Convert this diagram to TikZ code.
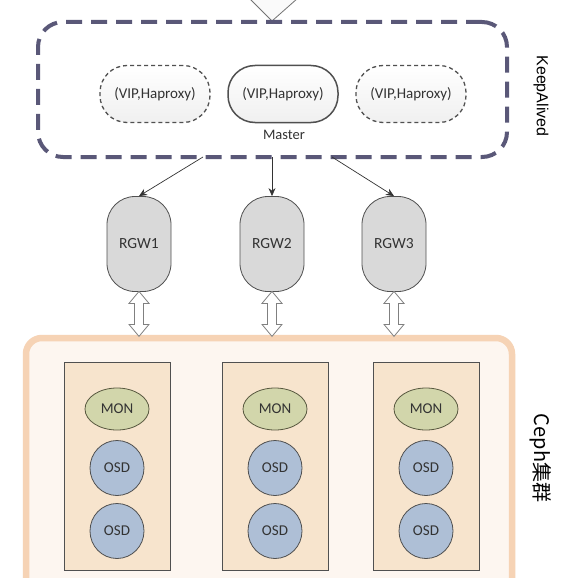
\documentclass[tikz,border=0pt]{standalone}
\usepackage{fontspec}
\setmainfont{Carlito}
\newfontfamily\kafont{Liberation Sans}
\newfontfamily\cjk{Noto Sans CJK SC}
\usetikzlibrary{arrows.meta,calc,shapes.geometric}
\definecolor{kadash}{HTML}{5A5878}
\definecolor{edgegray}{HTML}{505050}
\definecolor{rgwfill}{HTML}{D9D9D9}
\definecolor{cephborder}{HTML}{F6D3B5}
\definecolor{cephfill}{HTML}{FDF6F0}
\definecolor{colfill}{HTML}{F7E4CD}
\definecolor{monfill}{HTML}{D2D6AB}
\definecolor{osdfill}{HTML}{AEBFD6}
\definecolor{txt}{HTML}{333333}
\tikzset{
  kabox/.style={draw=kadash, line width=4pt, dash pattern=on 16pt off 9pt, rounded corners=25pt,
    minimum width=469pt, minimum height=135pt, inner sep=0pt},
  pill/.style={draw=edgegray, rounded corners=27pt, minimum width=110pt, minimum height=57pt,
    top color=white, bottom color=gray!12, text=txt, inner sep=0pt},
  pilldash/.style={pill, line width=1.3pt, dash pattern=on 4pt off 3pt},
  pillsolid/.style={pill, line width=1.5pt},
  rgw/.style={draw=edgegray, line width=0.8pt, rounded corners=28pt, fill=rgwfill,
    minimum width=64pt, minimum height=95pt, text=txt, inner sep=0pt,
    font=\fontsize{15.5}{17}\selectfont},
  conn/.style={draw=txt, line width=0.7pt, -{Stealth[length=8pt,width=7pt]}},
  harrow/.style={draw=gray, line width=0.8pt, fill=white},
  cephbox/.style={draw=cephborder, line width=6.5pt, fill=cephfill, rounded corners=16pt},
  colbox/.style={draw=edgegray, line width=0.8pt, fill=colfill, minimum width=106pt,
    minimum height=208pt, inner sep=0pt},
  mon/.style={ellipse, draw=edgegray!80!olive, line width=0.8pt, fill=monfill,
    minimum width=64pt, minimum height=42pt, inner sep=0pt, text=txt},
  osd/.style={ellipse, draw=edgegray, line width=0.8pt, fill=osdfill,
    minimum width=54pt, minimum height=55pt, inner sep=0pt, text=txt},
  sidelabel/.style={rotate=-90, text=black}
}
\begin{document}
\begin{tikzpicture}[x=1pt,y=-1pt, font=\fontsize{15}{17}\selectfont]
\useasboundingbox (0,0) rectangle (578,578);
\clip (0,0) rectangle (578,578);
\fill[white] (0,0) rectangle (578,578);

% top arrow head (part of an incoming block arrow)
\draw[draw=gray!90!black, line width=0.8pt, fill=gray!4] (249,-2) -- (272,21) -- (298,-2);

% KeepAlived group
\node[kabox] (ka) at (272.5,89.5) {};
\node[pilldash] (p1) at (155,94) {(VIP,Haproxy)};
\node[pillsolid] (p2) at (283,94) {(VIP,Haproxy)};
\node[pilldash] (p3) at (411,94) {(VIP,Haproxy)};
\node[text=txt, font=\fontsize{14.5}{16}\selectfont] (ms) at (284,135) {Master};
\node[sidelabel, font=\kafont\fontsize{16}{18}\selectfont] (kl) at (541,96) {KeepAlived};

% RGW nodes
\node[rgw] (r1) at (139,244) {RGW1};
\node[rgw] (r2) at (272,244) {RGW2};
\node[rgw] (r3) at (394,244) {RGW3};

\coordinate (s1) at (203,157);
\coordinate (s2) at (272,157);
\coordinate (s3) at (332,157);
\draw[conn] (s1) -- (r1.north);
\draw[conn] (s2) -- (r2.north);
\draw[conn] (s3) -- (r3.north);

% Ceph cluster
\draw[cephbox] (26,338) rectangle (512,640);
\node[sidelabel, font=\cjk\fontsize{20}{22}\selectfont] (cl) at (541,458) {Ceph集群};

\foreach \i/\x in {1/117,2/275,3/426}{
  \node[colbox] (c\i) at (\x,466) {};
  \node[mon] (m\i) at (\x,409) {MON};
  \node[osd] (oa\i) at (\x,468) {OSD};
  \node[osd] (ob\i) at (\x,531) {OSD};
}

% double arrows RGW <-> Ceph
\foreach \i in {1,2,3}{
  \draw[harrow] ($(r\i.south)+(0,-0.5)$) -- ++(10,12) -- ++(-5.5,0) -- ++(0,21) -- ++(5.5,0)
    -- ++(-10,12) -- ++(-10,-12) -- ++(5.5,0) -- ++(0,-21) -- ++(-5.5,0) -- cycle;
}
\end{tikzpicture}
\end{document}
